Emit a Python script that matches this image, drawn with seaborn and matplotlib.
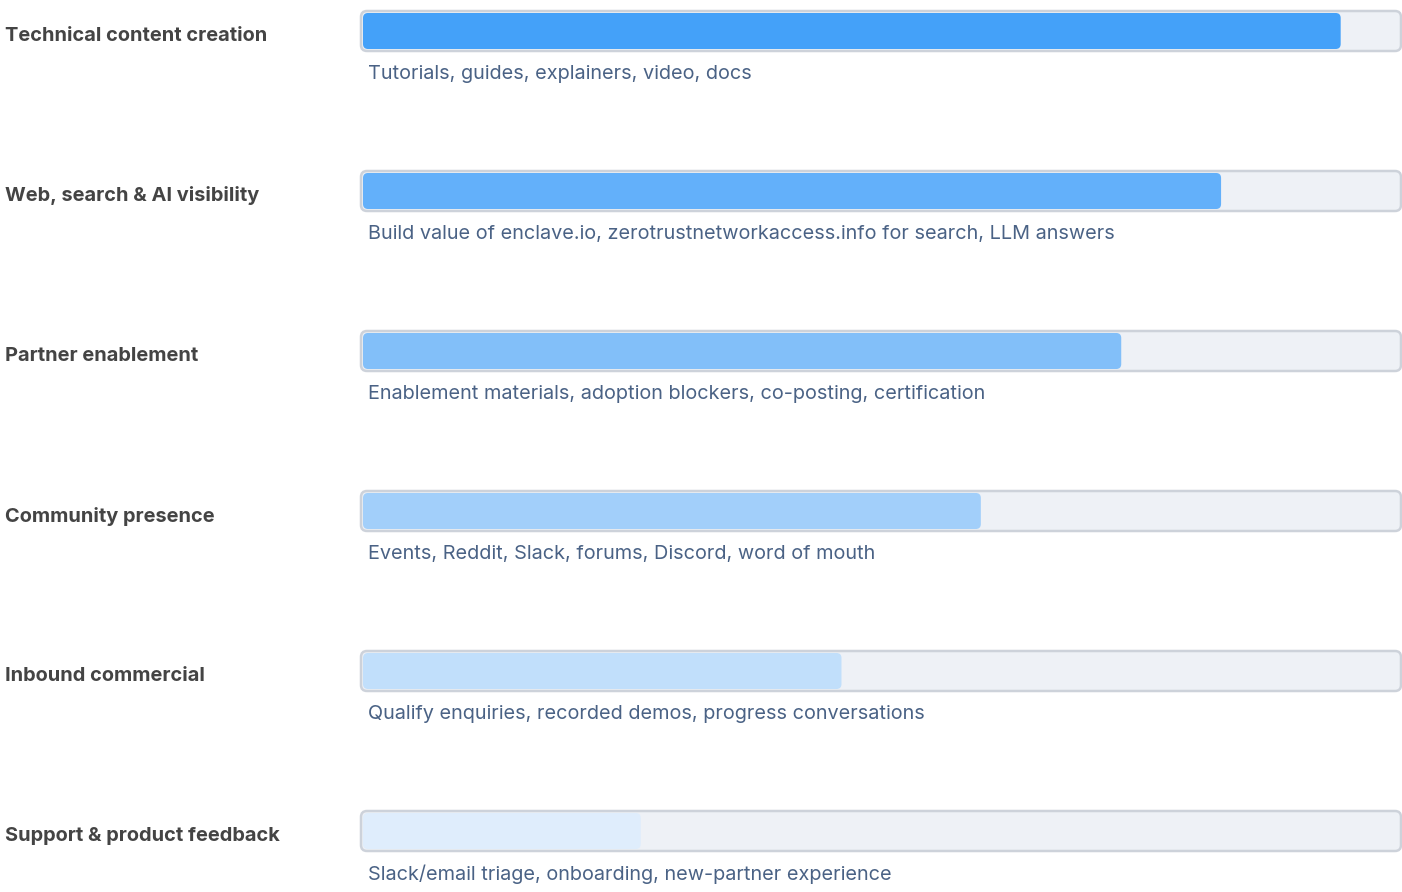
import matplotlib
matplotlib.use("Agg")
import matplotlib.pyplot as plt
import seaborn as sns
from matplotlib.patches import FancyBboxPatch

# data
categories = [
    "Technical content creation",
    "Web, search & AI visibility",
    "Partner enablement",
    "Community presence",
    "Inbound commercial",
    "Support & product feedback",
]
descriptions = [
    "Tutorials, guides, explainers, video, docs",
    "Build value of enclave.io, zerotrustnetworkaccess.info for search, LLM answers",
    "Enablement materials, adoption blockers, co-posting, certification",
    "Events, Reddit, Slack, forums, Discord, word of mouth",
    "Qualify enquiries, recorded demos, progress conversations",
    "Slack/email triage, onboarding, new-partner experience",
]
values = [94.2, 82.7, 73.1, 59.6, 46.2, 26.9]
track_max = [100] * len(categories)
fill_colors = ["#44a1f9", "#63b0fa", "#82bff9", "#a2cffa", "#c1dffb", "#dfedfc"]

sns.set_theme(style="white")
plt.rcParams["font.family"] = ["Inter", "DejaVu Sans"]

W, H = 1402, 892
fig = plt.figure(figsize=(W / 100, H / 100), dpi=100)
ax = fig.add_axes([0, 0, 1, 1])

# pixel mapping: x=0 at px 361, x=100 at px 1401; row i centred at px 31 + 160*i
px_x = 10.4
px_y = 160.0
x0_px, y0_px = 361, 31

# tracks and fills through seaborn
sns.barplot(x=track_max, y=categories, orient="h", color="#eef1f6",
            saturation=1, width=40 / px_y, ax=ax, zorder=1)
n_track = len(ax.patches)
sns.barplot(x=values, y=categories, hue=categories, palette=fill_colors,
            saturation=1, orient="h", width=36 / px_y, legend=False, ax=ax,
            zorder=2)

ax.set_xlim(-x0_px / px_x, (W - x0_px) / px_x)
ax.set_ylim((H - y0_px) / px_y, -y0_px / px_y)

patches = list(ax.patches)
aspect = px_x / px_y
for k, p in enumerate(patches):
    x, y, w, h = p.get_x(), p.get_y(), p.get_width(), p.get_height()
    fc = p.get_facecolor()
    p.remove()
    if k < n_track:
        box = FancyBboxPatch((x, y), w, h,
                             boxstyle=f"round,pad=0,rounding_size={6 / px_x}",
                             mutation_aspect=aspect, facecolor="#eef1f6",
                             edgecolor="none", zorder=1)
        ax.add_patch(box)
        edge = FancyBboxPatch((x, y), w, h,
                              boxstyle=f"round,pad=0,rounding_size={6 / px_x}",
                              mutation_aspect=aspect, facecolor="none",
                              edgecolor="#cdd2da", linewidth=1.8, zorder=3)
        ax.add_patch(edge)
    else:
        x_in = 2 / px_x
        box = FancyBboxPatch((x + x_in, y), w - x_in, h,
                             boxstyle=f"round,pad=0,rounding_size={5 / px_x}",
                             mutation_aspect=aspect, facecolor=fc,
                             edgecolor="none", zorder=2)
        ax.add_patch(box)

for i, (lab, desc) in enumerate(zip(categories, descriptions)):
    ax.text(-356 / px_x, i + 5 / px_y, lab, ha="left", va="center",
            fontsize=14.4, fontweight="bold", color="#444444")
    ax.text(7 / px_x, i + 43 / px_y, desc, ha="left", va="center",
            fontsize=14.3, color="#4a6285")

ax.set_axis_off()
fig.savefig("out.png", dpi=100)
